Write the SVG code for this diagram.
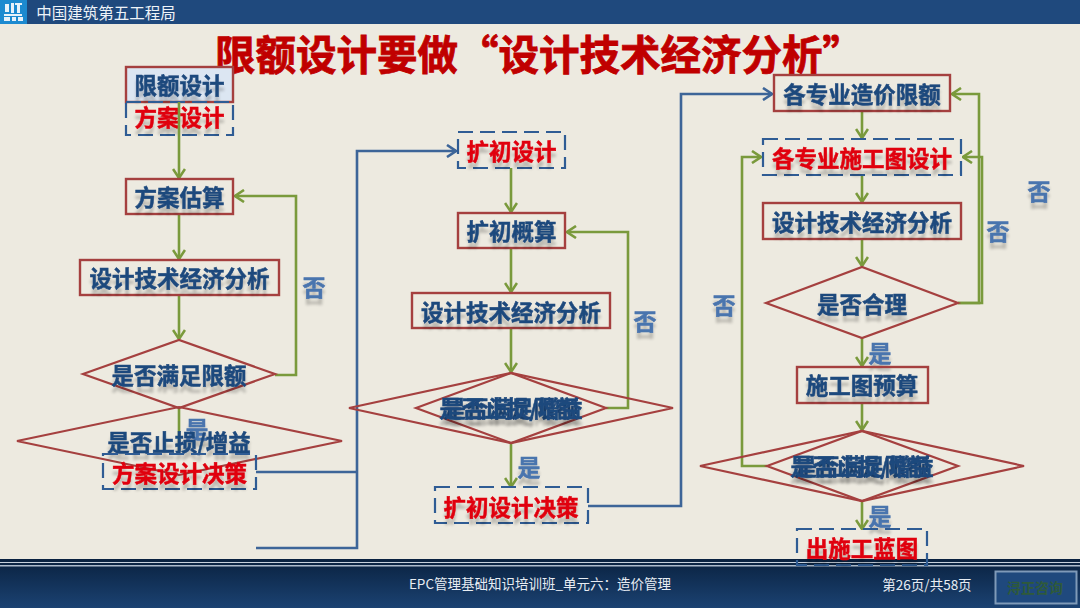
<svg xmlns="http://www.w3.org/2000/svg" width="1080" height="608" viewBox="0 0 1080 608">
<style>
text{font-family:"Noto Sans CJK SC","Noto Sans",sans-serif;text-anchor:middle;dominant-baseline:central;transform:translateY(-2px)}
.n{font-size:22.5px;font-weight:700;fill:#1f497d;stroke:#1f497d;stroke-width:.5;filter:url(#refl)}
.r{font-size:22.5px;font-weight:700;fill:#e00010;stroke:#e00010;stroke-width:.5;filter:url(#refl)}
.y{font-size:23px;font-weight:700;fill:#4a74ae;stroke:#4a74ae;stroke-width:.5;filter:url(#refl)}
.box{fill:none;stroke:#a5403f;stroke-width:2.4}
.dash{fill:none;stroke:#2f5c94;stroke-width:2.2;stroke-dasharray:15 7}
.dia{fill:none;stroke:#a5403f;stroke-width:2.2}
.g{fill:none;stroke:#7a9a3c;stroke-width:2.6}
.b{fill:none;stroke:#3d6598;stroke-width:2.6}
.ft{font-size:13.500px;fill:#e8edf3}
</style>
<defs>
<linearGradient id="foot" x1="0" y1="0" x2="0" y2="1"><stop offset="0" stop-color="#0a2240"/><stop offset="1" stop-color="#1b4272"/></linearGradient>
<filter id="refl" x="-10%" y="-30%" width="120%" height="190%">
<feGaussianBlur in="SourceAlpha" stdDeviation="1.5"/><feOffset dy="6"/>
<feComponentTransfer result="s"><feFuncA type="linear" slope="0.22"/></feComponentTransfer>
<feMerge><feMergeNode in="s"/><feMergeNode in="SourceGraphic"/></feMerge>
</filter>
<marker id="ag" viewBox="0 0 12 14" refX="11" refY="7" markerWidth="12" markerHeight="14" markerUnits="userSpaceOnUse" orient="auto"><path d="M2 1 L11 7 L2 13" fill="none" stroke="#7a9a3c" stroke-width="2.6"/></marker>
<marker id="ab" viewBox="0 0 12 14" refX="11" refY="7" markerWidth="12" markerHeight="14" markerUnits="userSpaceOnUse" orient="auto"><path d="M2 1 L11 7 L2 13" fill="none" stroke="#3d6598" stroke-width="2.6"/></marker>
</defs>
<rect width="1080" height="608" fill="#edeae0"/>
<g id="header">
<rect width="1080" height="24" fill="#1f497d"/>
<rect width="27" height="24" fill="#1c8ad0"/>
<g fill="#e8f2fa"><rect x="5" y="4" width="4" height="8"/><rect x="11" y="3" width="3" height="10"/><rect x="15" y="3" width="7" height="2"/><rect x="17" y="5" width="3" height="8"/><rect x="4" y="14" width="18" height="2"/><rect x="4" y="17" width="6" height="4"/><rect x="12" y="17" width="4" height="4"/><rect x="18" y="17" width="5" height="4"/></g>
<text x="106" y="14" style="font-size:15.5px;fill:#eef3f8">中国建筑第五工程局</text>
</g>
<g id="footer">
<rect y="559" width="1080" height="49" fill="url(#foot)"/>
<rect y="562" width="1080" height="1" fill="#c8d2de"/>
<rect y="565" width="1080" height="1.5" fill="#aebccd"/>
<text class="ft" x="540" y="585">EPC管理基础知识培训班_单元六：造价管理</text>
<text class="ft" x="927" y="586">第26页/共58页</text>
<rect x="995.500" y="571.500" width="81" height="32" fill="#1f497d" stroke="#7f9ab8" stroke-width="2"/>
<text x="1035" y="589" style="font-size:14px;font-weight:700;fill:#2f5a3a">浔正咨询</text>
</g>
<text id="title" x="539" y="54" style="font-size:40.500px;font-weight:700;fill:#c00000;stroke:#c00000;stroke-width:.8">限额设计要做“设计技术经济分析”</text>
<g id="n-xianexsj"><rect class="box" x="126" y="67" width="107" height="35" style="fill:#dce6f2"/><text class="n" x="179.500" y="86">限额设计</text></g>
<g id="n-fasj"><rect class="dash" x="126" y="102" width="107" height="33"/><text class="r" x="179.500" y="118">方案设计</text></g>
<g id="connectors">
<path class="g" marker-end="url(#ag)" d="M179 102V178"/>
<path class="g" marker-end="url(#ag)" d="M179 214V259"/>
<path class="g" marker-end="url(#ag)" d="M179 295V339"/>
<path class="g" d="M179 408V453"/>
<path class="g" marker-end="url(#ag)" d="M275 375H296V196H235"/>
<path class="b" d="M256 472H357"/>
<path class="b" marker-end="url(#ab)" d="M256 548H357V151H456"/>
<path class="g" marker-end="url(#ag)" d="M511 168V212"/>
<path class="g" marker-end="url(#ag)" d="M511 248V292"/>
<path class="g" marker-end="url(#ag)" d="M511 328V372"/>
<path class="g" marker-end="url(#ag)" d="M606 408H628V232H567"/>
<path class="g" marker-end="url(#ag)" d="M511 443V487"/>
<path class="b" marker-end="url(#ab)" d="M588 506H681V94H772"/>
<path class="g" marker-end="url(#ag)" d="M862 111V138"/>
<path class="g" marker-end="url(#ag)" d="M862 175V202"/>
<path class="g" marker-end="url(#ag)" d="M862 239V266"/>
<path class="g" marker-end="url(#ag)" d="M958 303H979V94H952"/>
<path class="g" marker-end="url(#ag)" d="M958 303H982V157H963"/>
<path class="g" marker-end="url(#ag)" d="M767 466H742V157H761"/>
<path class="g" marker-end="url(#ag)" d="M862 338V366"/>
<path class="g" marker-end="url(#ag)" d="M862 403V430"/>
<path class="g" marker-end="url(#ag)" d="M862 501V529"/>
</g>
<g id="n-fags"><rect class="box" x="126" y="179" width="107" height="35"/><text class="n" x="179.500" y="198">方案估算</text></g>
<g id="n-jjfx1"><rect class="box" x="80" y="260" width="199" height="35"/><text class="n" x="179.500" y="279">设计技术经济分析</text></g>
<g id="n-d1"><polygon class="dia" points="83,374 179,340 275,374 179,408"/><text class="n" x="179" y="376">是否满足限额</text></g>
<g id="l-shi1"><text class="y" x="197" y="430">是</text></g>
<g id="n-d2"><polygon class="dia" points="17,441 179,407 342,441 179,475"/><text class="n" x="179" y="443">是否止损/增益</text></g>
<g id="n-fajc"><rect class="dash" x="103" y="454" width="153" height="35"/><text class="r" x="179.500" y="474">方案设计决策</text></g>
<g id="l-fou1"><text class="y" x="314" y="288">否</text></g>
<g id="n-kcsj"><rect class="dash" x="458" y="132" width="107" height="36"/><text class="r" x="511.500" y="152">扩初设计</text></g>
<g id="n-kcgs"><rect class="box" x="458" y="213" width="107" height="35"/><text class="n" x="511.500" y="232">扩初概算</text></g>
<g id="n-jjfx2"><rect class="box" x="412" y="293" width="198" height="35"/><text class="n" x="511" y="313">设计技术经济分析</text></g>
<g id="n-d3"><polygon class="dia" points="416,408 511,373 606,408 511,443"/><text class="n" x="511" y="409">是否满足限额</text></g>
<g id="n-d4"><polygon class="dia" points="349,408 511,373 673,408 511,443"/><text class="n" x="511" y="409">是否止损/增益</text></g>
<g id="l-fou2"><text class="y" x="645" y="322">否</text></g>
<g id="l-shi2"><text class="y" x="529" y="468">是</text></g>
<g id="n-kcjc"><rect class="dash" x="435" y="487" width="153" height="36"/><text class="r" x="511" y="508">扩初设计决策</text></g>
<g id="n-zjxe"><rect class="box" x="774" y="75" width="176" height="36"/><text class="n" x="862" y="95">各专业造价限额</text></g>
<g id="n-sgtsj"><rect class="dash" x="763" y="139" width="198" height="36"/><text class="r" x="862" y="159">各专业施工图设计</text></g>
<g id="n-jjfx3"><rect class="box" x="763" y="203" width="198" height="36"/><text class="n" x="862" y="223">设计技术经济分析</text></g>
<g id="n-d5"><polygon class="dia" points="766,303 862,267 958,303 862,338"/><text class="n" x="862" y="305">是否合理</text></g>
<g id="l-fou3"><text class="y" x="724" y="306">否</text></g>
<g id="l-fou4"><text class="y" x="998" y="232">否</text></g>
<g id="l-fou5"><text class="y" x="1039" y="192">否</text></g>
<g id="l-shi3"><text class="y" x="880" y="354">是</text></g>
<g id="n-sgtys"><rect class="box" x="797" y="367" width="131" height="36"/><text class="n" x="862" y="386">施工图预算</text></g>
<g id="n-d6"><polygon class="dia" points="767,466 862,431 958,466 862,501"/><text class="n" x="862" y="467">是否满足限额</text></g>
<g id="n-d7"><polygon class="dia" points="700,466 862,431 1024,466 862,501"/><text class="n" x="862" y="467">是否止损/增益</text></g>
<g id="l-shi4"><text class="y" x="880" y="517">是</text></g>
<g id="n-lantu"><rect class="dash" x="797" y="529" width="130" height="36"/><text class="r" x="862" y="549">出施工蓝图</text></g>
</svg>
